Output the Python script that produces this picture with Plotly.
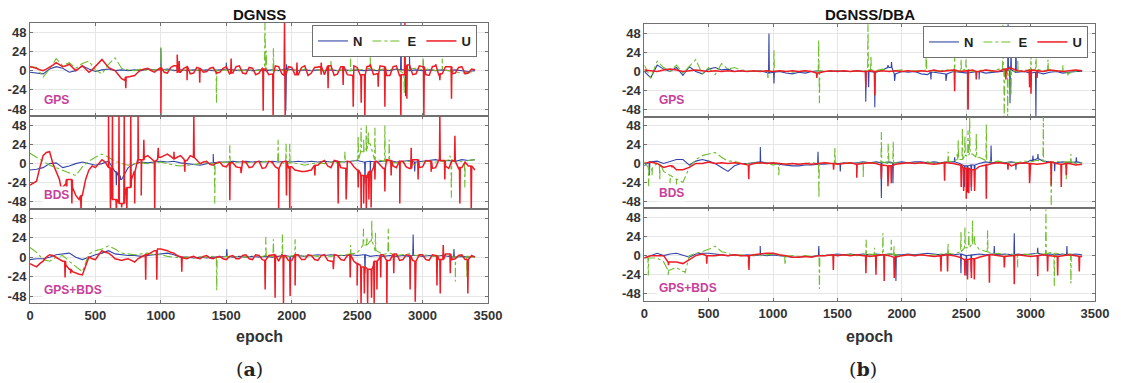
import plotly.graph_objects as go

# ---------------- data ----------------
# baseline samples every 50 epochs (0..3400) and in-between samples (25..3375)
EPOCHS = list(range(0, 3401, 50))
MID_EPOCHS = list(range(25, 3400, 50))

# ---- (a) DGNSS, GPS ----
A1_N = [-2,-3,-4,2,5,3,-2,0,6,2, -1,1,2,0,1,0,1,0,2,1, 1,2,0,1,0,1,0,1,0,1, 2,1,0,1,0,1,0,1,0,2,
        1,0,1,0,1,0,1,0,1,0, 1,0,1,0,1,0,2,1,0,1, 0,1,0,1,0,1,0,-1,0]
A1_E = [5,4,-8,2,15,6,10,3,9,12, 1,-4,8,16,3,1,0,2,0,1, 2,0,1,0,1,0,1,0,1,0, 1,0,1,0,1,0,2,0,1,0,
        1,0,2,0,1,0,2,0,1,0, 2,1,3,0,2,1,3,-3,2,3, 1,2,0,1,0,-2,-3,-2,-1]
A1_U = [5,3,0,4,10,5,8,0,6,-2, 5,14,4,0,-10,-8,-6,1,3,-2, 4,-3,6,-2,5,-3,3,-1,4,-2, 5,-3,6,-4,3,-3,2,-4,5,-6,
        4,-5,6,-3,5,-5,6,-4,5,-6, 4,-5,6,-4,5,-6,6,-5,7,-4, 5,-6,6,-4,5,-3,5,-3,1]
A1_U_mid = [4,1,2,7,8,6,4,3,2,1, 10,9,2,-5,-12,-7,-2,2,0,1, -2,4,-3,3,-4,4,-2,3,-3,3,
            -4,5,-3,4,-5,3,-5,6,-4,5, -5,4,-6,4,-5,5,-6,5,-5,6, -6,5,-5,6,-6,5,-7,6,-5,6, -5,5,-6,5,-4,4,-4,2]
A1_N_spk_e = [1000, 1500, 1955, 1960, 2835, 2870, 2900]
A1_N_spk_v = [28, 10, -50, 8, 60, -32, 18]
A1_E_spk_e = [1000, 1425, 1795, 1805, 1860, 2300, 2450, 2600, 2860, 3005, 3150]
A1_E_spk_v = [30, -40, 60, 25, 28, 12, 15, 18, -28, 20, 15]
A1_U_spk_e = [732, 1000, 1125, 1140, 1200, 1297, 1537, 1782, 1858, 1945, 1950, 2040, 2225, 2278, 2393,
              2470, 2531, 2559, 2600, 2661, 2712, 2834, 2865, 2880, 3010, 3100, 3132, 3221]
A1_U_spk_v = [-22, -60, 20, 12, -12, -15, 15, -50, -60, 60, -58, 10, 10, -22, -18,
              -45, -40, -60, 8, -20, -45, -60, 60, -35, -60, 8, -12, -35]

# ---- (a) DGNSS, BDS ----
A2_N = [-8,-7,-5,0,1,-5,-3,0,2,0, -2,0,3,-10,-20,-5,0,2,1,2, 3,2,3,1,0,-1,-2,0,1,2, 2,3,2,3,2,3,2,3,2,3,
        2,3,2,3,2,3,2,3,2,3, 4,2,3,2,3,4,2,3,4,2, 3,4,5,3,4,3,5,4,5]
A2_E = [13,8,2,-2,-5,-8,-12,-15,-4,3, 8,12,8,3,0,-2,0,1,0,1, 2,0,-2,-3,-2,-1,0,1,0,1, 2,1,2,1,2,1,3,1,2,0,
        1,0,-2,0,1,0,2,1,3,2, 5,15,25,5,3,2,1,2,3,-3, 2,3,2,3,5,2,3,4,5]
A2_U = [-27,-22,10,15,-10,-30,-20,-40,-40,-8, -5,5,-5,-45,-50,-30,-10,5,10,3, 8,12,6,10,4,8,0,3,-2,2,
        -4,1,-5,2,-4,3,-5,2,-6,3, -4,-9,-10,-8,-2,4,-5,3,-6,2, -8,-15,-10,3,-6,4,-5,3,-6,5, -4,3,-5,4,-6,3,-5,-3,-8]
A2_U_mid = [-25,-5,14,0,-20,-25,-30,-45,-20,-3, 0,2,-30,-48,-40,-20,0,8,6,5, 10,9,8,6,10,5,2,-1,1,-3,
            2,-4,3,-5,2,-6,3,-4,2,-5, -8,-10,-9,-4,2,-3,4,-5,3,-4, -12,-18,-5,-2,5,-3,4,-4,5,-5, 4,-6,5,-3,4,-6,2,-6]
A2_N_spk_e = [660, 690, 1400, 2560, 2600, 2940, 3250]
A2_N_spk_v = [-27, -15, 12, -25, -15, -10, 8]
A2_E_spk_e = [1412, 1527, 1896, 1957, 1985, 2406, 2508, 2530, 2550, 2570, 2585, 2636, 2712, 2745, 3209, 3220, 3323]
A2_E_spk_v = [-50, 23, 30, 25, 25, 15, 35, 45, 30, 48, 40, 45, 48, 30, 10, -43, -30]
A2_U_spk_e = [240, 280, 320, 390, 600, 615, 630, 660, 680, 700, 720, 740, 770, 800, 826, 850, 870, 953, 980,
              1100, 1183, 1252, 1527, 1613, 1900, 1960, 1985, 2177, 2355, 2416, 2508, 2531, 2550, 2570, 2590,
              2607, 2636, 2712, 2760, 2826, 2913, 2966, 3066, 3132, 3170, 3247, 3285, 3372]
A2_U_spk_v = [-45, -40, -50, -60, 60, -60, 60, -60, 60, -55, 60, -60, 60, -50, 60, -40, 30, -60, 20,
              15, -10, 60, -46, -12, -60, -40, -60, -15, -50, -45, -30, -60, -50, -60, -45,
              -55, -20, -35, -15, -50, 20, -20, -10, 60, -20, 35, -50, -60]

# ---- (a) DGNSS, GPS+BDS ----
A3_N = [-3,-2,-2,0,3,4,5,0,-3,0, 3,5,8,4,3,2,2,1,2,3, 4,5,3,0,0,-1,0,-1,0,0, 1,0,1,0,1,0,1,0,1,2,
        1,2,1,2,3,2,3,2,2,3, 2,3,1,2,1,2,1,2,1,2, 1,2,1,2,1,0,1,0,1]
A3_E = [12,6,-3,-5,0,2,-5,-12,-18,4, 8,10,14,10,5,4,3,4,5,3, 3,1,0,-1,0,-1,0,0,1,0, 1,0,1,0,1,0,2,1,2,0,
        1,2,1,2,1,2,1,3,2,4, 5,15,20,8,3,5,2,3,4,2, 3,2,1,3,2,0,2,1,0]
A3_U = [-8,-12,-5,3,0,-5,-15,-20,-22,0, -3,8,5,-2,-4,-2,-6,0,3,8, 10,8,5,0,-2,1,-2,2,-2,1,
        -3,2,-2,3,-3,2,-4,3,-5,2, -4,3,-3,2,-4,3,-5,2,-4,3, -8,-12,-15,-5,3,-4,4,-3,2,-5, 3,-4,2,-3,4,-2,3,-3,0]
A3_U_mid = [-10,-8,0,2,-3,-10,-18,-21,-12,-2, 3,6,2,-3,-3,-4,-2,2,5,10, 9,6,2,-1,0,-1,1,-1,0,-2,
            1,-2,2,-2,3,-3,2,-3,3,-4, 2,-3,3,-3,2,-4,3,-3,2,-5, -10,-14,-10,0,-3,3,-4,3,-4,3, -3,3,-3,4,-3,2,-3,2]
A3_N_spk_e = [1504, 1988, 2560, 2928, 3240]
A3_N_spk_v = [10, -12, -20, 28, 10]
A3_E_spk_e = [1427, 1802, 1860, 1929, 2026, 2450, 2548, 2575, 2612, 2640, 2738, 3250, 3339]
A3_E_spk_v = [-41, 25, 22, 28, 22, 15, 35, 25, 45, 30, 35, -30, -25]
A3_U_spk_e = [268, 311, 884, 969, 1160, 1797, 1873, 1937, 1988, 2026, 2318, 2447, 2500, 2530, 2555, 2580,
              2610, 2630, 2651, 2680, 2727, 2780, 2905, 2944, 3110, 3135, 3158, 3212, 3346]
A3_U_spk_v = [-25, -20, -28, -28, -18, -40, -50, -58, -48, -35, -15, -25, -35, -58, -45, -58,
              -50, -58, -40, -25, -58, -20, -40, -55, -35, -45, 15, -20, -45]

# ---- (b) DGNSS/DBA, GPS ----
B1_N = [0,-8,8,3,0,5,-5,6,0,-3, 3,5,2,3,0,1,0,0,1,-2, -1,0,-2,-3,-1,-2,0,1,0,0, 1,0,0,1,0,0,-1,2,5,-3,
        0,-1,0,-3,-4,-1,-2,-3,0,-1, -2,-1,0,-2,-1,0,1,2,-1,0, -2,-1,-3,-1,0,-2,-1,0,0]
B1_E = [8,-8,13,5,0,8,-2,6,15,-3, 5,-4,10,3,5,2,1,0,1,0, 0,1,0,-1,0,1,0,1,0,1, 0,1,0,1,0,2,1,3,0,1,
        2,0,1,0,2,0,1,2,0,1, 3,0,1,2,0,3,2,1,0,2, 1,3,1,2,0,1,-2,0,1]
B1_U = [2,1,0,2,3,2,0,1,2,1, 0,1,0,1,0,1,0,1,0,1, 0,1,0,1,0,1,0,-2,0,1, 0,1,0,1,0,1,0,1,0,1,
        0,1,0,1,0,2,0,1,2,0, 1,2,0,2,1,0,3,4,1,0, 2,1,0,2,1,0,1,2,1]
B1_N_spk_e = [968, 1007, 1720, 1742, 1790, 1892, 1920, 1944, 2226, 2343, 2514, 2600, 2825, 2840, 2848, 2886, 3041]
B1_N_spk_v = [48, -15, -38, -20, -45, 8, 12, -12, -10, -12, -48, -10, 60, -40, 30, 50, -58]
B1_E_spk_e = [960, 1007, 1354, 1360, 1737, 1760, 2190, 2410, 2460, 2498, 2785, 2795, 2822, 2848, 2900,
              3003, 3041, 3135, 3250, 3290]
B1_E_spk_v = [-10, 27, 40, -40, 60, 20, 33, 22, 15, 15, 60, -58, -60, -30, 15, 22, 28, 15, 8, -5]
B1_U_spk_e = [1340, 1720, 1790, 2410, 2514, 2578, 2808, 2837, 2992, 3003, 3050]
B1_U_spk_v = [-8, -20, -30, -25, -48, -10, -10, 6, -20, -28, -8]

# ---- (b) DGNSS/DBA, BDS ----
B2_N = [-3,2,3,0,3,5,5,-2,3,5, 3,0,-5,-10,-3,0,0,1,2,1, 0,-1,-2,-3,-3,-2,-2,-1,-1,0, 0,1,0,1,2,1,2,1,2,1,
        2,1,2,2,1,2,1,2,2,0, -3,-2,0,2,1,2,1,2,1,0, 4,6,3,2,1,2,1,2,1]
B2_E = [2,-5,0,-10,-15,-20,-24,-5,5,10, 12,14,8,3,3,0,0,1,0,1, -2,0,-1,0,-1,0,1,0,1,0, 1,0,1,0,2,0,1,2,0,1,
        0,1,0,1,2,0,1,2,3,5, 10,12,8,4,2,3,1,2,1,3, 2,4,3,2,3,1,2,0,1]
B2_U = [0,2,0,-5,-3,-8,-8,-5,0,0, 2,0,1,0,1,0,-2,0,1,0, 1,0,-1,0,-1,0,-1,0,1,0, -1,0,1,-1,0,1,0,-2,-3,-1,
        0,1,0,1,0,-1,0,1,0,-2, -6,-8,-4,-2,0,1,0,-3,0,1, 0,-1,0,2,0,-1,0,-2,-1]
B2_N_spk_e = [40, 901, 1349, 1522, 1841, 1931, 2410, 2487, 2510, 2539, 2565, 2693, 2886, 3018, 3057, 3187, 3355]
B2_N_spk_v = [-15, 21, 15, -10, -44, -25, 8, -30, -37, -35, -30, 23, -8, 10, 12, -10, 8]
B2_E_spk_e = [34, 60, 120, 200, 250, 1044, 1356, 1480, 1700, 1841, 1894, 1933, 2360, 2430, 2438, 2470, 2490,
              2514, 2527, 2578, 2656, 3099, 3160, 3277, 3313]
B2_E_spk_v = [-29, -15, -22, -25, -28, -15, -44, 21, -18, 40, 25, 28, 15, 12, 30, 45, 35,
              42, 60, 38, 50, 60, -58, -20, 12]
B2_U_spk_e = [215, 811, 1470, 1650, 1841, 1892, 1918, 2332, 2461, 2480, 2500, 2520, 2540, 2565, 2656,
              2824, 2992, 3160, 3238, 3277]
B2_U_spk_v = [-5, -20, -8, -18, -20, -29, -25, -22, -30, -35, -45, -38, -30, -35, -45,
              -8, -25, -28, -30, -15]

# ---- (b) DGNSS/DBA, GPS+BDS ----
B3_N = [-3,0,3,0,2,3,0,-2,2,3, 3,2,1,0,1,0,1,0,1,0, 1,0,-1,-2,-2,-1,-1,0,0,1, 2,1,2,1,2,1,2,1,2,1,
        1,2,1,2,3,2,1,2,1,2, 0,1,2,1,2,1,2,1,2,1, 2,3,1,2,1,2,1,2,1]
B3_E = [-2,-3,-3,-8,-18,-15,-20,0,3,5, 8,12,5,3,0,1,0,1,0,1, 2,0,-1,0,-1,0,-1,0,1,0, 1,0,2,0,1,2,1,0,2,1,
        0,1,0,1,0,1,2,3,2,5, 10,15,8,5,2,3,1,2,0,2, 1,3,2,4,3,1,2,0,1]
B3_U = [-3,0,0,0,-8,-8,-10,-5,0,2, 0,0,1,0,1,0,0,1,2,3, 3,1,0,-2,-2,-1,-2,0,0,1, 0,1,0,1,0,-1,0,1,0,-2,
        0,1,0,1,0,-1,0,1,0,-2, -5,-4,-2,0,1,0,-1,0,1,0, -1,0,1,0,-1,0,1,0,-1]
B3_N_spk_e = [900, 1355, 1954, 2459, 2500, 2539, 2718, 2873, 3055, 3282]
B3_N_spk_v = [12, 12, -32, -22, -25, -20, 12, 28, 10, 12]
B3_E_spk_e = [31, 187, 316, 808, 1093, 1360, 1723, 1788, 1853, 1918, 1939, 2359, 2459, 2490, 2520, 2549,
              2563, 2666, 2899, 3119, 3184, 3313]
B3_E_spk_v = [-25, -25, -22, -15, -12, -42, 20, 10, 28, 20, 12, 15, 30, 36, 30, 44,
              25, 32, -15, 58, -38, -35]
B3_U_spk_e = [188, 485, 813, 1468, 1721, 1799, 1863, 1941, 2304, 2355, 2490, 2510, 2540, 2563, 2680,
              2796, 2873, 3055, 3132, 3210, 3378]
B3_U_spk_v = [-12, -10, -18, -18, -22, -24, -32, -28, -20, -20, -25, -30, -28, -30, -34,
              -15, -36, -26, -20, -25, -20]

X_TICKS = [0, 500, 1000, 1500, 2000, 2500, 3000, 3500]
Y_TICKS = [-48, -24, 0, 24, 48]
Y_TICK_TEXT = ["-48", "-24", "0", "24", "48"]
COMPONENTS = ["N", "E", "U"]
ROW_LABELS = ["GPS", "BDS", "GPS+BDS"]
PANEL_TITLES = ["DGNSS", "DGNSS/DBA"]

SERIES = [
    [(A1_N, A1_N_spk_e, A1_N_spk_v, None), (A1_E, A1_E_spk_e, A1_E_spk_v, None), (A1_U, A1_U_spk_e, A1_U_spk_v, A1_U_mid)],
    [(A2_N, A2_N_spk_e, A2_N_spk_v, None), (A2_E, A2_E_spk_e, A2_E_spk_v, None), (A2_U, A2_U_spk_e, A2_U_spk_v, A2_U_mid)],
    [(A3_N, A3_N_spk_e, A3_N_spk_v, None), (A3_E, A3_E_spk_e, A3_E_spk_v, None), (A3_U, A3_U_spk_e, A3_U_spk_v, A3_U_mid)],
    [(B1_N, B1_N_spk_e, B1_N_spk_v, None), (B1_E, B1_E_spk_e, B1_E_spk_v, None), (B1_U, B1_U_spk_e, B1_U_spk_v, None)],
    [(B2_N, B2_N_spk_e, B2_N_spk_v, None), (B2_E, B2_E_spk_e, B2_E_spk_v, None), (B2_U, B2_U_spk_e, B2_U_spk_v, None)],
    [(B3_N, B3_N_spk_e, B3_N_spk_v, None), (B3_E, B3_E_spk_e, B3_E_spk_v, None), (B3_U, B3_U_spk_e, B3_U_spk_v, None)],
]

# ---------------- styling / layout ----------------
W, H = 1121, 383
STYLE = {
    "N": dict(color="#3346A8", width=1.1, dash="solid"),
    "E": dict(color="#6DBE2C", width=1.1, dash="dashdot"),
    "U": dict(color="#EE1C25", width=1.5, dash="solid"),
}
FONT = "Liberation Sans, Arial, sans-serif"
# pixel geometry of the plot boxes
PANEL_X = [(30, 488), (644.3, 1095)]
PANEL_ROWS = [[(23, 116.3), (116.3, 209), (209, 303.3)],
              [(24.3, 116.7), (116.7, 208.3), (208.3, 301)]]
Y_RANGE = [-57, 59.5]


def px(xp):
    return xp / W


def py(yp):
    return 1 - yp / H


def merged(base, spk_e, spk_v, mid):
    pts = list(zip(EPOCHS, base))
    if mid is not None:
        pts += list(zip(MID_EPOCHS, mid))
    for e, v in zip(spk_e, spk_v):
        i = min(range(len(EPOCHS)), key=lambda k: abs(EPOCHS[k] - e))
        b = base[i]
        pts += [(e - 3, b), (e, v), (e + 3, b)]
    pts.sort(key=lambda p: p[0])
    return [p[0] for p in pts], [p[1] for p in pts]


fig = go.Figure()
layout = dict(width=W, height=H, autosize=False,
              margin=dict(l=0, r=0, t=0, b=0, pad=0, autoexpand=False),
              paper_bgcolor="white", plot_bgcolor="white", showlegend=True,
              hovermode=False)

for p in range(2):
    for r in range(3):
        k = p * 3 + r + 1
        xs = "" if k == 1 else str(k)
        for c, comp in enumerate(COMPONENTS):
            base, se, sv, mid = SERIES[k - 1][c]
            x, y = merged(base, se, sv, mid)
            st = STYLE[comp]
            fig.add_trace(go.Scatter(
                x=x, y=y, mode="lines", name=comp,
                line=dict(color=st["color"], width=st["width"], dash=st["dash"]),
                xaxis="x" + xs, yaxis="y" + xs,
                showlegend=(r == 0), legend="legend" if p == 0 else "legend2",
                hoverinfo="skip"))
        x0, x1 = PANEL_X[p]
        t, b = PANEL_ROWS[p][r]
        axcommon = dict(showgrid=True, gridcolor="#E6E6E6", gridwidth=1, zeroline=False,
                        showline=True, linecolor="#707070", linewidth=1, mirror="ticks",
                        ticks="inside", ticklen=3, tickcolor="#707070", automargin=False,
                        tickfont=dict(family=FONT, size=13, color="#333333", weight="bold"))
        layout["xaxis" + xs] = dict(
            domain=[px(x0), px(x1)], range=[0, 3500], anchor="y" + xs,
            tickvals=X_TICKS, ticktext=[str(v) for v in X_TICKS],
            showticklabels=(r == 2), **axcommon)
        layout["yaxis" + xs] = dict(
            domain=[py(b), py(t)], range=Y_RANGE, anchor="x" + xs,
            tickvals=Y_TICKS, ticktext=Y_TICK_TEXT, **axcommon)

legcommon = dict(orientation="h", bgcolor="white", bordercolor="#707070", borderwidth=1,
                 font=dict(family=FONT, size=13, color="#222222", weight="bold"),
                 yanchor="top", xanchor="right", itemwidth=30, tracegroupgap=0)
layout["legend"] = dict(x=px(477), y=py(25), **legcommon)
layout["legend2"] = dict(x=px(1088), y=py(26), **legcommon)

ann = []
for p in range(2):
    x0, x1 = PANEL_X[p]
    cx = (x0 + x1) / 2
    ann.append(dict(text=PANEL_TITLES[p], x=px(cx), y=py(14.5), xref="paper", yref="paper",
                    xanchor="center", yanchor="middle", showarrow=False,
                    font=dict(family=FONT, size=15, color="#111111", weight="bold")))
    ann.append(dict(text="epoch", x=px(cx), y=py(336), xref="paper", yref="paper",
                    xanchor="center", yanchor="middle", showarrow=False,
                    font=dict(family=FONT, size=16, color="#333333", weight="bold")))
    lab_y = [[100, 195, 290], [100, 193, 288]][p]
    lab_x = [42, 657][p]
    for r in range(3):
        ann.append(dict(text=ROW_LABELS[r], x=px(lab_x), y=py(lab_y[r]), xref="paper", yref="paper",
                        xanchor="left", yanchor="middle", showarrow=False, bgcolor="white", borderpad=1,
                        font=dict(family=FONT, size=12, color="#C8409A", weight="bold")))
ann.append(dict(text="(<b>a</b>)", x=px(249), y=py(369), xref="paper", yref="paper",
                xanchor="center", yanchor="middle", showarrow=False,
                font=dict(family="DejaVu Serif, serif", size=19, color="#222222")))
ann.append(dict(text="(<b>b</b>)", x=px(863), y=py(369), xref="paper", yref="paper",
                xanchor="center", yanchor="middle", showarrow=False,
                font=dict(family="DejaVu Serif, serif", size=19, color="#222222")))
layout["annotations"] = ann

fig.update_layout(**layout)
# remove the default page margin so the figure sits at the window's top-left corner
fig.write_html("out.html", config={"displayModeBar": False, "staticPlot": True},
               post_script="document.body.style.margin='0';")
